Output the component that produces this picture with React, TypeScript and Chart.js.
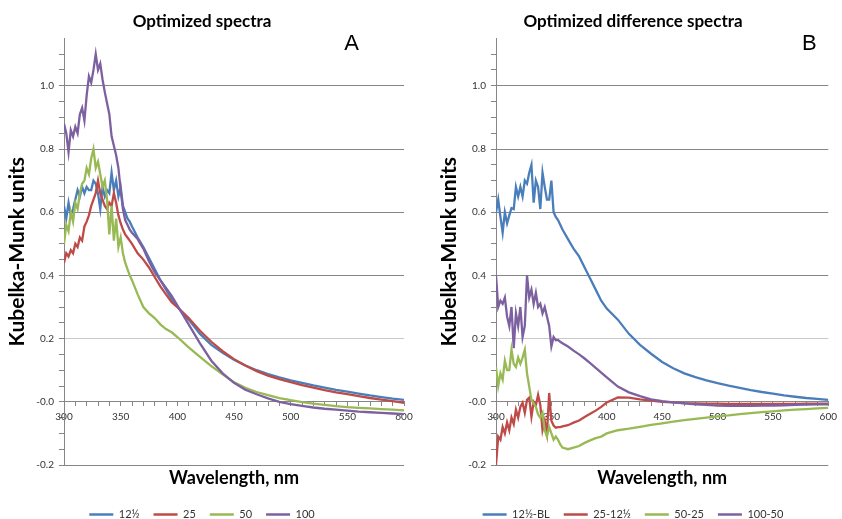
import React, { useEffect, useRef } from 'react';
import { Chart, registerables } from 'chart.js';
Chart.register(...registerables);

const FONT = 'Lato, "Open Sans", sans-serif';

// wavelength grid (nm)
const wavelengths = [
  300, 302, 304, 306, 308, 310, 312, 314, 316, 318, 320, 322, 324, 326, 328, 330,
  332, 334, 336, 338, 340, 342, 344, 346, 348, 350, 352, 354, 356, 358, 360,
  365, 370, 375, 380, 385, 390, 395, 400,
  410, 420, 430, 440, 450, 460, 470, 480, 490, 500, 510, 520, 530, 540, 550, 560, 570, 580, 590, 600,
];

// Panel A: optimized spectra
const specA_12half = [
  0.62, 0.58, 0.63, 0.59, 0.61, 0.64, 0.67, 0.65, 0.68, 0.66, 0.68, 0.67, 0.67, 0.70, 0.69, 0.66,
  0.61, 0.68, 0.65, 0.67, 0.66, 0.725, 0.67, 0.70, 0.65, 0.68, 0.62, 0.60, 0.58, 0.57, 0.555,
  0.52, 0.49, 0.455, 0.42, 0.385, 0.355, 0.325, 0.30,
  0.26, 0.215, 0.18, 0.155, 0.133, 0.115, 0.10, 0.088, 0.077, 0.068, 0.06, 0.052, 0.045, 0.038, 0.032, 0.026, 0.02, 0.015, 0.01, 0.006,
];
const specA_25 = [
  0.44, 0.47, 0.46, 0.48, 0.47, 0.50, 0.49, 0.52, 0.51, 0.555, 0.57, 0.59, 0.62, 0.64, 0.66, 0.70,
  0.66, 0.64, 0.62, 0.61, 0.63, 0.62, 0.66, 0.63, 0.59, 0.565, 0.545, 0.53, 0.52, 0.51, 0.50,
  0.47, 0.45, 0.425, 0.395, 0.365, 0.34, 0.315, 0.30,
  0.265, 0.225, 0.19, 0.16, 0.135, 0.115, 0.097, 0.083, 0.072, 0.062, 0.053, 0.045, 0.037, 0.03, 0.024, 0.018, 0.012, 0.007, 0.002, -0.003,
];
const specA_50 = [
  0.50, 0.56, 0.54, 0.60, 0.57, 0.63, 0.61, 0.66, 0.69, 0.70, 0.74, 0.72, 0.77, 0.80, 0.74, 0.76,
  0.72, 0.68, 0.70, 0.64, 0.53, 0.62, 0.51, 0.58, 0.49, 0.52, 0.47, 0.44, 0.42, 0.40, 0.385,
  0.34, 0.30, 0.28, 0.265, 0.245, 0.23, 0.22, 0.205,
  0.172, 0.142, 0.113, 0.087, 0.062, 0.044, 0.031, 0.021, 0.012, 0.005, -0.001, -0.006, -0.01, -0.014, -0.017, -0.019, -0.021, -0.023, -0.025, -0.027,
];
const specA_100 = [
  0.88, 0.85, 0.79, 0.86, 0.84, 0.87, 0.85, 0.91, 0.93, 0.89, 0.97, 1.03, 1.01, 1.05, 1.10, 1.05,
  1.07, 1.02, 0.98, 0.945, 0.91, 0.84, 0.81, 0.78, 0.74, 0.67, 0.61, 0.575, 0.56, 0.545, 0.535,
  0.515, 0.485, 0.445, 0.41, 0.385, 0.36, 0.335, 0.305,
  0.245, 0.185, 0.13, 0.09, 0.06, 0.038, 0.024, 0.011, 0.0, -0.007, -0.013, -0.018, -0.022, -0.025, -0.028, -0.031, -0.033, -0.035, -0.037, -0.039,
];

// Panel B: optimized difference spectra
const diffB_12halfBL = [
  0.60, 0.64, 0.585, 0.535, 0.60, 0.565, 0.59, 0.613, 0.61, 0.68, 0.65, 0.68, 0.65, 0.70, 0.69, 0.725,
  0.75, 0.63, 0.70, 0.68, 0.61, 0.725, 0.68, 0.64, 0.64, 0.70, 0.60, 0.585, 0.575, 0.56, 0.545,
  0.515, 0.485, 0.46, 0.425, 0.39, 0.355, 0.32, 0.295,
  0.26, 0.215, 0.18, 0.152, 0.126, 0.106, 0.09, 0.078, 0.068, 0.059, 0.051, 0.044, 0.037, 0.031, 0.026, 0.02, 0.016, 0.012, 0.009, 0.006,
];
const diffB_25_12half = [
  -0.20, -0.11, -0.12, -0.08, -0.10, -0.065, -0.09, -0.05, -0.07, -0.025, -0.05, -0.016, -0.003, -0.035, 0.006, 0.013,
  -0.047, 0.0, -0.01, 0.022, -0.01, -0.09, -0.06, -0.10, 0.028, -0.06, -0.075, -0.082, -0.08, -0.08, -0.078,
  -0.074, -0.066, -0.059, -0.048, -0.038, -0.028, -0.016, -0.002,
  0.014, 0.013, 0.008, 0.004, 0.0, -0.002, -0.004, -0.005, -0.006, -0.006, -0.007, -0.007, -0.007, -0.007, -0.007, -0.007, -0.007, -0.006, -0.006, -0.006,
];
const diffB_50_25 = [
  0.11, 0.05, 0.09, 0.07, 0.13, 0.10, 0.10, 0.165, 0.12, 0.11, 0.14, 0.12, 0.14, 0.165, 0.09, 0.048,
  0.006, -0.005, -0.016, -0.04, -0.05, -0.035, -0.09, -0.11, -0.08, -0.10, -0.12, -0.11, -0.12, -0.135, -0.145,
  -0.15, -0.145, -0.14, -0.13, -0.122, -0.115, -0.11, -0.10,
  -0.09, -0.085, -0.079, -0.073, -0.068, -0.063, -0.058, -0.054, -0.05, -0.046, -0.043, -0.039, -0.036, -0.033, -0.03, -0.027, -0.025, -0.023, -0.021, -0.019,
];
const diffB_100_50 = [
  0.40, 0.30, 0.32, 0.31, 0.33, 0.27, 0.24, 0.30, 0.17, 0.28, 0.24, 0.30, 0.205, 0.24, 0.40, 0.33,
  0.355, 0.31, 0.345, 0.30, 0.31, 0.28, 0.30, 0.27, 0.24, 0.175, 0.205, 0.195, 0.196, 0.19, 0.185,
  0.175, 0.162, 0.15, 0.137, 0.122, 0.107, 0.092, 0.077,
  0.048, 0.03, 0.018, 0.008, 0.002, -0.002, -0.005, -0.008, -0.01, -0.012, -0.013, -0.013, -0.013, -0.012, -0.012, -0.011, -0.01, -0.009, -0.008, -0.008,
];

const labelsA = ['12½', '25', '50', '100'];
const labelsB = ['12½-BL', '25-12½', '50-25', '100-50'];
const seriesColors = ['#4A7EBB', '#BE4B48', '#98B954', '#7D60A0'];
const xTickLabels = [300, 350, 400, 450, 500, 550, 600];
const yTickLabels = [-0.2, 0, 0.2, 0.4, 0.6, 0.8, 1.0];

const near = (a: number, b: number) => Math.abs(a - b) < 1e-6;

const letterPlugin = {
  id: 'panelLetter',
  afterDraw(chart: any, _args: any, opts: any) {
    const { ctx, chartArea } = chart;
    ctx.save();
    ctx.font = '22px "Liberation Sans", Arial, sans-serif';
    ctx.fillStyle = '#000';
    ctx.textAlign = 'center';
    ctx.textBaseline = 'middle';
    ctx.fillText(opts.text, chartArea.right + opts.dx, chartArea.top + opts.dy);
    ctx.restore();
  },
};

function makeConfig(title: string, letter: string, letterDx: number, rightPad: number, names: string[], values: number[][]): any {
  return {
    type: 'line',
    data: {
      datasets: names.map((name, i) => ({
        label: name,
        data: wavelengths.map((x, j) => ({ x, y: values[i][j] })),
        borderColor: seriesColors[i],
        backgroundColor: seriesColors[i],
        borderWidth: 2.3,
        pointRadius: 0,
        pointHoverRadius: 0,
        pointStyle: 'line',
        pointBorderColor: seriesColors[i],
        pointBorderWidth: 2.5,
        tension: 0,
        order: names.length - 1 - i,
      })),
    },
    plugins: [letterPlugin],
    options: {
      responsive: false,
      animation: false,
      events: [],
      layout: { padding: { left: 0, right: rightPad, top: 0, bottom: 0 } },
      plugins: {
        panelLetter: { text: letter, dx: letterDx, dy: 6 },
        tooltip: { enabled: false },
        title: {
          display: true,
          text: title,
          color: '#000',
          font: { family: FONT, size: 17, weight: 'bold' },
          padding: { top: 11, bottom: 7 },
        },
        legend: {
          display: true,
          position: 'bottom',
          labels: {
            usePointStyle: true,
            pointStyleWidth: 24,
            color: '#333',
            font: { family: FONT, size: 11 },
            padding: 14,
            sort: (a: any, b: any) => a.datasetIndex - b.datasetIndex,
          },
        },
      },
      scales: {
        x: {
          type: 'linear',
          min: 300,
          max: 600,
          position: { y: 0 },
          border: { color: '#868686', width: 1 },
          grid: { drawOnChartArea: false, drawTicks: true, tickLength: 4, tickColor: '#868686' },
          ticks: {
            stepSize: 10,
            autoSkip: false,
            maxRotation: 0,
            minRotation: 0,
            padding: 5,
            color: '#333',
            font: { family: FONT, size: 10 },
            callback: (v: any) => (xTickLabels.some((t) => near(t, Number(v))) ? String(v) : ''),
          },
        },
        x2: {
          type: 'linear',
          min: 300,
          max: 600,
          position: 'bottom',
          afterFit: (s: any) => { s.height = 30; },
          border: { display: false },
          grid: { display: false },
          ticks: { display: false },
          title: {
            display: true,
            text: 'Wavelength, nm',
            color: '#000',
            font: { family: FONT, size: 18, weight: 'bold' },
            padding: { top: 0, bottom: 6 },
          },
        },
        y: {
          type: 'linear',
          min: -0.2,
          max: 1.15,
          afterFit: (s: any) => { s.width = 64; },
          border: { color: '#868686', width: 1 },
          grid: {
            drawTicks: true,
            tickLength: 5,
            color: (c: any) => {
              const v = c.tick ? c.tick.value : NaN;
              if (!yTickLabels.some((t) => near(t, v)) || near(v, 0)) return 'rgba(0,0,0,0)';
              if (near(v, 0.2)) return '#c8c8c8';
              return '#868686';
            },
            tickColor: (c: any) => (c.tick && c.tick.value > 1.12 ? 'rgba(0,0,0,0)' : '#868686'),
          },
          ticks: {
            stepSize: 0.05,
            autoSkip: false,
            padding: 5,
            color: '#333',
            font: { family: FONT, size: 10 },
            callback: (v: any) => (yTickLabels.some((t) => near(t, Number(v))) ? Number(v).toFixed(1) : ''),
          },
          title: {
            display: true,
            text: 'Kubelka-Munk units',
            color: '#000',
            font: { family: FONT, size: 21, weight: 'bold' },
            padding: { top: 5, bottom: 0 },
          },
        },
      },
    },
  };
}

export default function App() {
  const refA = useRef<HTMLCanvasElement>(null);
  const refB = useRef<HTMLCanvasElement>(null);
  useEffect(() => {
    const a = new Chart(refA.current as HTMLCanvasElement, makeConfig(
      'Optimized spectra', 'A', -52.5, 16, labelsA,
      [specA_12half, specA_25, specA_50, specA_100],
    ));
    const b = new Chart(refB.current as HTMLCanvasElement, makeConfig(
      'Optimized difference spectra', 'B', -19, 8, labelsB,
      [diffB_12halfBL, diffB_25_12half, diffB_50_25, diffB_100_50],
    ));
    return () => { a.destroy(); b.destroy(); };
  }, []);
  return (
    <div style={{ position: 'absolute', left: 0, top: 0, width: 842, height: 519, overflow: 'hidden', background: '#fff' }}>
      <canvas ref={refA} width={420} height={530} style={{ position: 'absolute', left: 0, top: 0, width: 420, height: 530 }} />
      <canvas ref={refB} width={410} height={530} style={{ position: 'absolute', left: 432, top: 0, width: 410, height: 530 }} />
    </div>
  );
}
